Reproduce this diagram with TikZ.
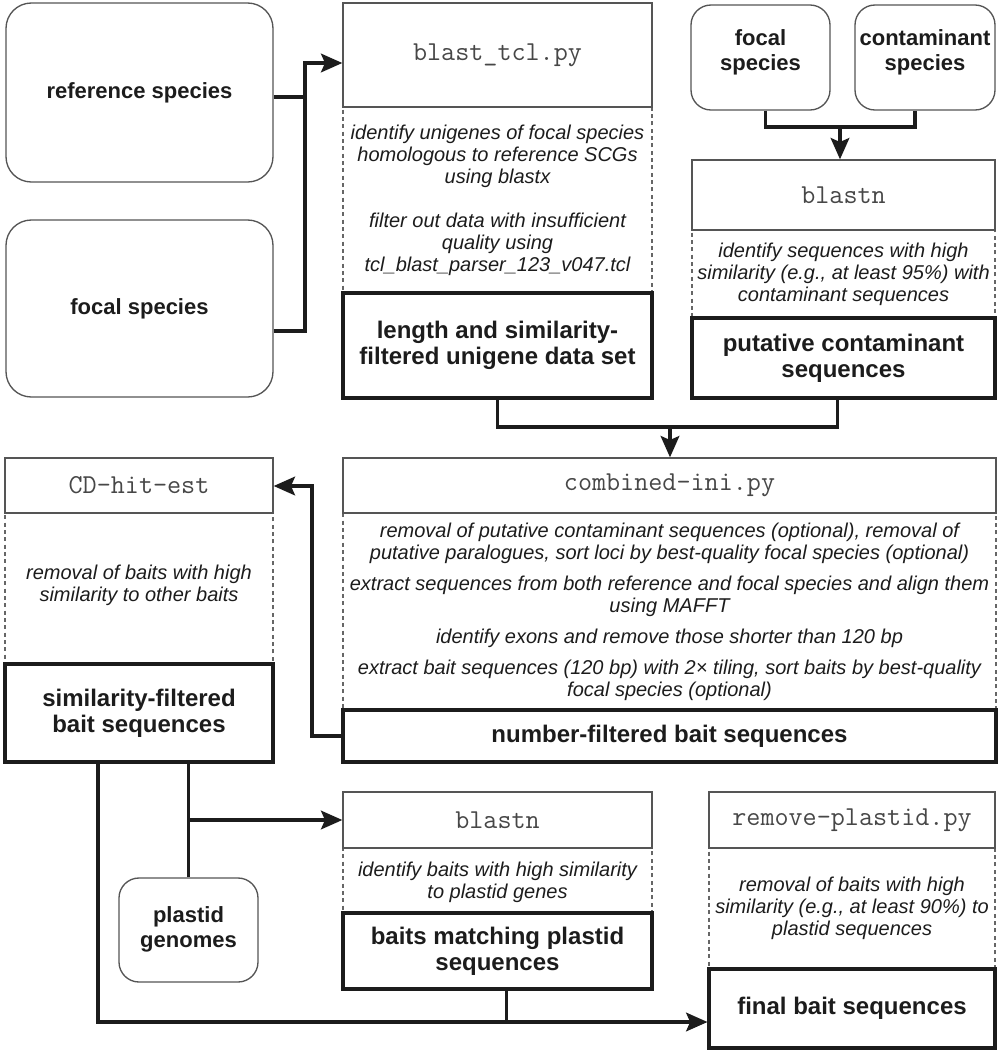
\documentclass[tikz,border=0pt]{standalone}
\usepackage{fontspec}
\setmainfont{Liberation Sans}
\usetikzlibrary{arrows.meta,fit,calc}
\definecolor{ink}{HTML}{1C1C1C}
\definecolor{thin}{HTML}{555555}
\begin{document}
\begin{tikzpicture}[x=0.75pt,y=-0.75pt,
  inbox/.style={draw=thin, line width=1pt, rounded corners=19pt, inner sep=0pt},
  smallbox/.style={inbox, rounded corners=15pt},
  hdr/.style={draw=thin, line width=1pt, inner sep=0pt},
  mid/.style={draw=black!60, line width=0.8pt, dash pattern=on 3pt off 2.5pt, inner sep=0pt},
  res/.style={draw=ink, line width=2.3pt, inner sep=0pt},
  intxt/.style={align=center, text=ink, inner sep=0pt, font=\bfseries\fontsize{16.5}{18.75}\selectfont},
  hdrtxt/.style={inner sep=0pt, text=black!72, font=\ttfamily\fontsize{20.5}{22}\selectfont},
  midtxt/.style={align=center, text=ink, inner sep=0pt, font=\itshape\fontsize{15}{16.5}\selectfont},
  restxt/.style={align=center, text=ink, inner sep=0pt, font=\bfseries\fontsize{18}{19.5}\selectfont},
  conn/.style={draw=ink, line width=2.4pt},
  conna/.style={conn, -{Stealth[length=16pt,width=14pt,inset=3pt]}}
]
\useasboundingbox (0,0) rectangle (1000,1054);

% input boxes
\node[inbox, fit={(6,3)(273,182)}] (ref) {};
\node[intxt] (tref) at (ref) {reference species};
\node[inbox, fit={(6,220)(273,397)}] (fs) {};
\node[intxt] (tfs) at (fs) {focal species};
\node[smallbox, fit={(691,5)(830,110)}] (f2) {};
\node[intxt] (tf2) at ($(f2)+(0,-5)$) {focal\\species};
\node[smallbox, fit={(855,5)(995,110)}] (cs) {};
\node[intxt] (tcs) at ($(cs)+(0,-5)$) {contaminant\\species};
\node[smallbox, fit={(119,878)(258,982)}] (pg) {};
\node[intxt] (tpg) at ($(pg)+(0,-1)$) {plastid\\genomes};

% blast_tcl.py
\node[mid, fit={(343,107)(652,293)}] (d1) {};
\node[hdr, fit={(343,3)(652,107)}] (h1) {};
\node[res, fit={(343,293)(652,398)}] (L1) {};
\node[hdrtxt] (th1) at (h1) {blast\_tcl.py};
\node[midtxt] (td1) at (d1) {identify unigenes of focal species\\ homologous to reference SCGs\\ using blastx\\[16.5pt] filter out data with insufficient\\ quality using\\ tcl\_blast\_parser\_123\_v047.tcl};
\node[restxt] (tL1) at (L1) {length and similarity-\\filtered unigene data set};

% blastn (contaminants)
\node[mid, fit={(692,230)(995,318)}] (d2) {};
\node[hdr, fit={(692,160)(995,230)}] (h2) {};
\node[res, fit={(692,318)(995,398)}] (P1) {};
\node[hdrtxt] (th2) at (h2) {blastn};
\node[midtxt] (td2) at (d2) {identify sequences with high\\ similarity (e.g., at least 95\%) with\\ contaminant sequences};
\node[restxt] (tP1) at (P1) {putative contaminant\\sequences};

% combined-ini.py
\node[mid, fit={(343,513)(996,710)}] (d3) {};
\node[hdr, fit={(343,458)(996,513)}] (h3) {};
\node[res, fit={(343,710)(996,762)}] (N) {};
\node[hdrtxt] (th3) at (h3) {combined-ini.py};
\node[midtxt] (td3) at (d3) {removal of putative contaminant sequences (optional), removal of\\ putative paralogues, sort loci by best-quality focal species (optional)\\[6.75pt] extract sequences from both reference and focal species and align them\\ using MAFFT\\[6.75pt] identify exons and remove those shorter than 120 bp\\[6.75pt] extract bait sequences (120 bp) with 2× tiling, sort baits by best-quality\\ focal species (optional)};
\node[restxt] (tN) at (N) {number-filtered bait sequences};

% CD-hit-est
\node[mid, fit={(5,513)(273,664)}] (dCD) {};
\node[hdr, fit={(5,458)(273,513)}] (hCD) {};
\node[res, fit={(5,664)(273,762)}] (S) {};
\node[hdrtxt] (thCD) at (hCD) {CD-hit-est};
\node[midtxt] (tdCD) at ($(dCD)+(0,-3)$) {removal of baits with high\\ similarity to other baits};
\node[restxt] (tS) at (S) {similarity-filtered\\bait sequences};

% blastn (plastid)
\node[mid, fit={(343,848)(652,913)}] (d5) {};
\node[hdr, fit={(343,792)(652,848)}] (h5) {};
\node[res, fit={(343,913)(652,989)}] (B2) {};
\node[hdrtxt] (th5) at (h5) {blastn};
\node[midtxt] (td5) at ($(d5)+(0,2)$) {identify baits with high similarity\\ to plastid genes};
\node[restxt] (tB2) at (B2) {baits matching plastid\\sequences};

% remove-plastid.py
\node[mid, fit={(709,848)(995,969)}] (d6) {};
\node[hdr, fit={(709,792)(995,848)}] (h6) {};
\node[res, fit={(709,969)(995,1048)}] (F) {};
\node[hdrtxt] (th6) at (h6) {remove-plastid.py};
\node[midtxt] (td6) at (d6) {removal of baits with high\\ similarity (e.g., at least 90\%) to\\ plastid sequences};
\node[restxt] (tF) at (F) {final bait sequences};

% connectors
\coordinate (j1) at (305,63);
\draw[conn] ($(ref.east)+(0,4.5)$) -| (j1);
\draw[conna] ($(fs.east)+(0,22.5)$) -| (j1) -- (j1 -| h1.west);

\coordinate (j2) at (840,127);
\draw[conn] ($(f2.south)+(5,0)$) |- (j2) -| ($(cs.south)+(-10,0)$);
\draw[conna] (j2) -- (j2 |- h2.north);

\coordinate (j3) at (670,427);
\draw[conn] (L1.south) |- (j3) -| ($(P1.south)+(-6,0)$);
\draw[conna] (j3) -- (j3 |- h3.north);

\coordinate (j4) at (312,486);
\draw[conna] (N.west) -| (j4) -- (j4 -| hCD.east);

\draw[conn] (pg.north) -- (pg.north |- S.south);
\draw[conna] (pg.north |- h5.west) -- (h5.west);

\coordinate (j6) at (98,1022);
\draw[conna] (S.south -| j6) -- (j6) -- (j6 -| F.west);
\coordinate (b2o) at ($(B2.south)+(9,0)$);
\draw[conn] (b2o) -- (b2o |- j6);
\end{tikzpicture}
\end{document}
